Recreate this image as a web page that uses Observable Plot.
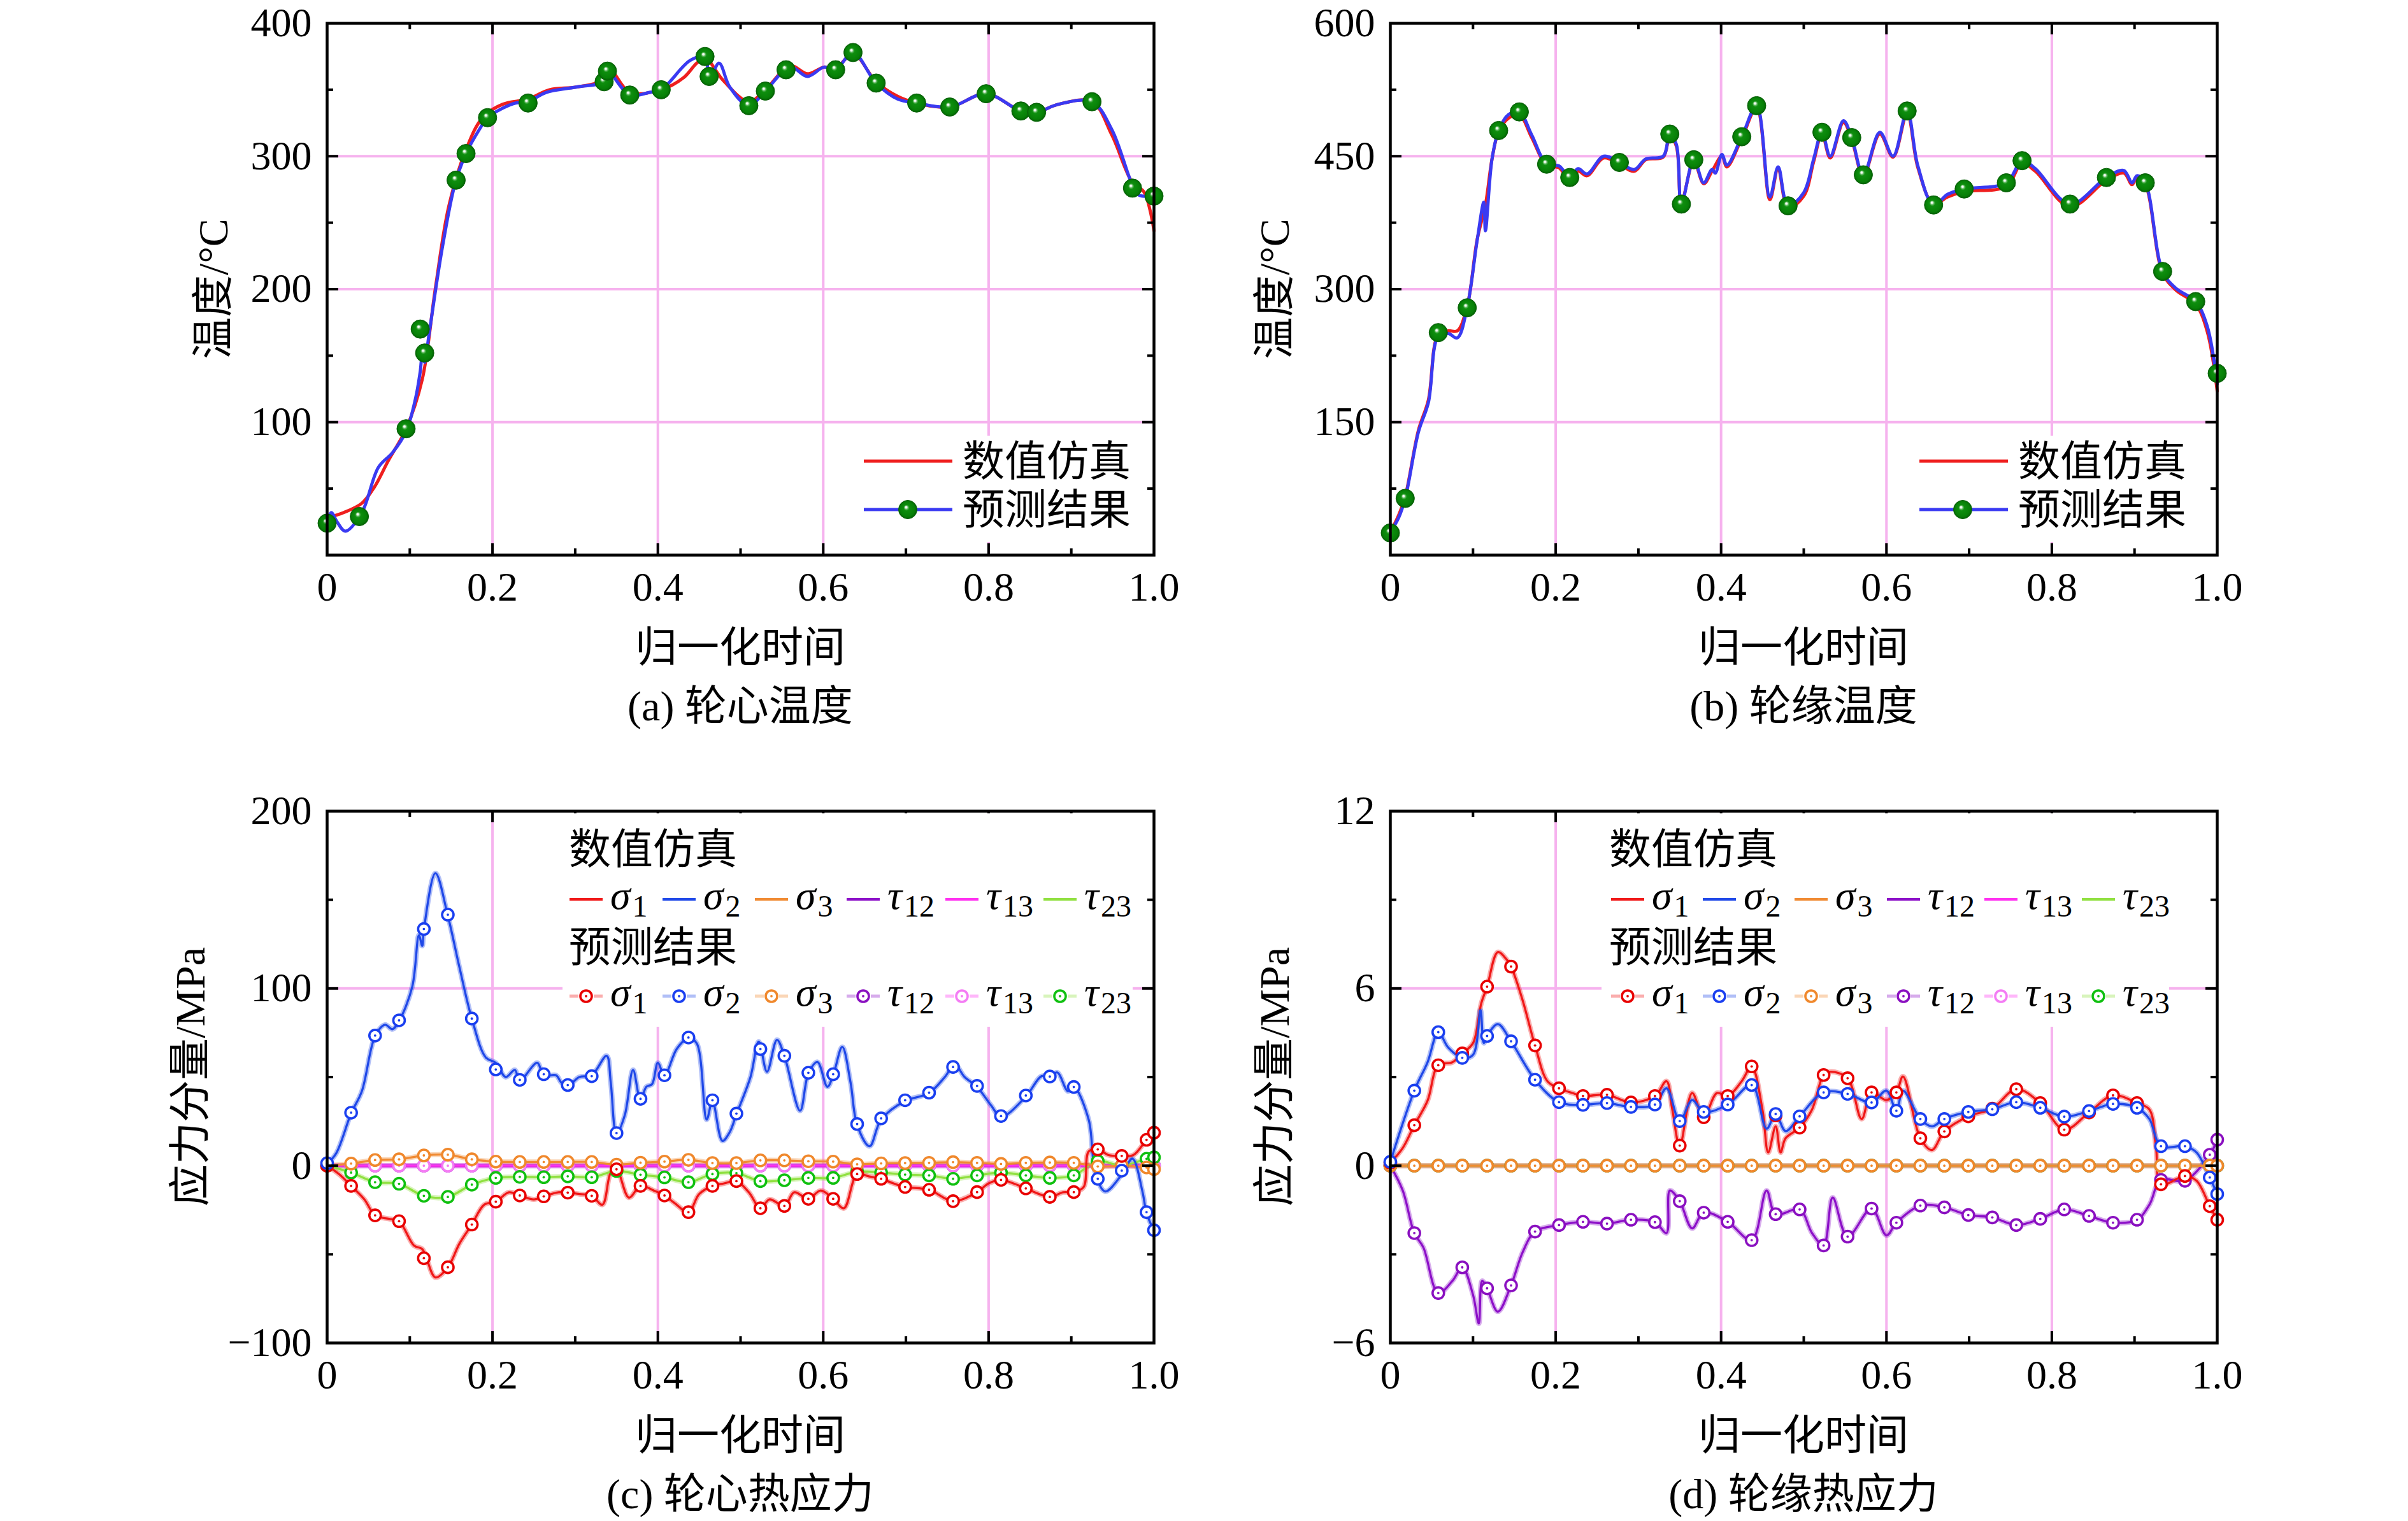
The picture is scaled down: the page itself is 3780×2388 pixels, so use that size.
<!DOCTYPE html>
<html><head><meta charset="utf-8">
<script src="https://cdn.jsdelivr.net/npm/d3@7"></script>
<script src="https://cdn.jsdelivr.net/npm/@observablehq/plot@0.6"></script>
<style>
html,body{margin:0;padding:0;background:#fff;}
#root{position:relative;width:3780px;height:2388px;overflow:hidden;background:#fff;}
</style></head>
<body><div id="root"></div>
<script>
// ---------------- DATA ----------------
const xTickVals = [0, 0.2, 0.4, 0.6, 0.8, 1.0];
const xMajor = [0.2, 0.4, 0.6, 0.8];
const xMinor = [0.1, 0.3, 0.5, 0.7, 0.9];

// (a) wheel-centre temperature
const aYTicks = [100, 200, 300, 400];
const aYMinor = [50, 150, 250, 350];
const aGridY = [100, 200, 300];
const aSimT = [0,0.02,0.042,0.057,0.074,0.0955,0.115,0.131,0.147,0.168,0.188,0.212,0.243,0.269,0.301,0.334,0.343,0.366,0.404,0.431,0.447,0.457,0.479,0.51,0.53,0.56,0.581,0.601,0.615,0.636,0.664,0.69,0.713,0.753,0.797,0.839,0.858,0.884,0.925,0.949,0.974,0.988,1.0];
const aSimV = [28,32,39,51,71,95,132,201,262,305,329,339,343,350,352,357,364,348,350,359,370,374,357,341,350,368,362,367,366,377,356,345,340,337,347,334,333,339,341,316,280,273,244];
const aPredT = [0,0.005,0.012,0.022,0.042,0.062,0.079,0.0955,0.107,0.1126,0.115,0.118,0.123,0.139,0.155,0.168,0.184,0.194,0.212,0.228,0.243,0.265,0.301,0.334,0.339,0.366,0.39,0.404,0.439,0.457,0.462,0.474,0.487,0.51,0.53,0.56,0.581,0.601,0.615,0.636,0.664,0.69,0.713,0.753,0.797,0.839,0.858,0.884,0.925,0.949,0.974,0.981,1.0];
const aPredV = [24,32,25,18,32,66,77,93,118,138,149,145,165,230,280,302,320,329,336,340,341,348,352,356,364,346,348,350,372,375,357,370,352,338,349,367,360,367,365,378,355,343,340,337,347,334,333,339,341,320,278,271,270];
const aMarkT = [0,0.039,0.0955,0.1126,0.118,0.156,0.168,0.194,0.243,0.335,0.339,0.366,0.404,0.457,0.462,0.51,0.53,0.555,0.615,0.636,0.664,0.713,0.753,0.797,0.839,0.858,0.925,0.974,1.0];
const aMarkV = [24,29,95,170,152,282,302,329,340,356,364,346,350,375,360,338,349,365,365,378,355,340,337,347,334,333,341,276,270];

// (b) wheel-rim temperature
const bYTicks = [150, 300, 450, 600];
const bYMinor = [75, 225, 375, 525];
const bGridY = [150, 300, 450];
const bSimT = [0,0.01,0.018,0.034,0.046,0.058,0.07,0.081,0.093,0.105,0.115,0.123,0.131,0.143,0.156,0.171,0.189,0.204,0.217,0.227,0.238,0.258,0.277,0.295,0.309,0.33,0.338,0.346,0.352,0.367,0.379,0.389,0.401,0.407,0.425,0.443,0.459,0.469,0.481,0.5,0.512,0.522,0.532,0.548,0.558,0.572,0.592,0.608,0.625,0.638,0.657,0.674,0.694,0.745,0.764,0.78,0.822,0.866,0.887,0.897,0.903,0.913,0.934,0.95,0.974,0.988,1.0];
const bSimV = [26,45,66,141,175,249,253,253,281,356,395,447,478,493,497,471,440,437,423,433,428,448,441,433,446,449,473,461,398,444,419,433,450,438,470,505,401,436,392,405,444,475,448,488,469,428,475,449,498,437,396,404,410,416,442,433,393,423,431,418,426,418,318,299,283,252,185];
const bPredT = [0,0.01,0.018,0.034,0.046,0.058,0.07,0.081,0.093,0.105,0.113,0.115,0.123,0.131,0.143,0.156,0.171,0.189,0.204,0.217,0.227,0.238,0.258,0.277,0.295,0.309,0.33,0.338,0.346,0.352,0.367,0.379,0.389,0.393,0.401,0.407,0.425,0.443,0.459,0.469,0.481,0.5,0.512,0.522,0.532,0.548,0.558,0.572,0.592,0.608,0.625,0.638,0.657,0.674,0.694,0.745,0.764,0.78,0.822,0.866,0.887,0.897,0.903,0.913,0.934,0.95,0.974,0.988,1.0];
const bPredV = [26,42,64,139,172,247,250,245,280,355,398,366,447,479,497,500,474,441,439,426,436,430,450,443,435,447,450,475,463,396,446,420,435,431,452,440,472,507,404,438,394,409,447,477,450,490,471,429,477,450,501,439,395,407,413,420,445,436,396,426,434,420,428,420,320,301,286,258,193];
const bMarkT = [0,0.018,0.058,0.093,0.131,0.156,0.189,0.217,0.277,0.338,0.352,0.367,0.425,0.443,0.481,0.522,0.558,0.572,0.625,0.657,0.694,0.745,0.764,0.822,0.866,0.913,0.934,0.974,1.0];
const bMarkV = [25,64,251,279,479,500,441,426,443,475,396,446,472,507,394,477,471,429,501,395,413,420,445,396,426,420,320,286,205];

// (c) wheel-centre thermal stress, (d) wheel-rim thermal stress: marker times
const markT = [0,0.029,0.058,0.087,0.117,0.146,0.175,0.204,0.233,0.262,0.291,0.32,0.35,0.379,0.408,0.437,0.466,0.495,0.524,0.553,0.582,0.612,0.641,0.67,0.699,0.728,0.757,0.786,0.815,0.845,0.874,0.903,0.932,0.961,0.991,1.0];

const cYTicks = [-100, 0, 100, 200];
const cYMinor = [-50, 50, 150];
const cGridY = [0, 100];
const cS1 = [0,-11.4,-28,-31.3,-52.2,-57.3,-33.2,-20.3,-16.8,-17.3,-15.2,-17,-2,-11.4,-16.8,-26.2,-11.4,-8.7,-24,-22.7,-18.7,-18.7,-4.7,-7.4,-12,-13.6,-20,-14.9,-8,-12.8,-17.6,-14.9,9.2,5.5,14.6,18.6];
const cS2 = [1.4,29.9,73.4,82,133.5,141.6,83,54.3,48.4,51.6,45.5,50.5,18.4,37.7,51,72.3,36.9,29.4,65.8,62,52.4,51.6,23.5,26.7,36.9,41.2,55.7,45,28,39.6,50.3,44.4,-7.4,-2.8,-26.2,-36.4];
const cS3 = [0,1.2,3.2,3.6,5.8,6.2,3.6,2.3,2.1,2.1,2.1,2.1,0.6,1.7,2.3,3.3,1.5,1.5,3,3,2.5,2.3,0.8,1.3,1.5,1.6,2,1.6,1,1.6,1.8,1.6,-0.4,0,-1,-2];
const cT12 = [0,0,0,0,0,0,0,0,0,0,0,0,0,0,0,0,0,0,0,0,0,0,0,0,0,0,0,0,0,0,0,0,0,0,0,0];
const cT13 = [0,0,0,0,0,0,0,0,0,0,0,0,0,0,0,0,0,0,0,0,0,0,0,0,0,0,0,0,0,0,0,0,0,0,0,0];
const cT23 = [0,-3.9,-9.3,-10.2,-17,-17.6,-10.7,-6.9,-6.3,-6.5,-6,-6.5,-3,-5.1,-6.6,-9.3,-4.7,-4.2,-8.7,-8.2,-6.9,-6.9,-3.4,-3.9,-5,-5.5,-7.4,-5.5,-3.9,-5.5,-6.9,-5.5,2.6,0,3.9,4.7];
const cS1dT = [0,0.015,0.029,0.045,0.058,0.075,0.087,0.105,0.115,0.12,0.131,0.146,0.16,0.175,0.19,0.204,0.22,0.233,0.25,0.262,0.28,0.291,0.305,0.32,0.333,0.343,0.35,0.365,0.379,0.395,0.408,0.42,0.437,0.45,0.466,0.48,0.495,0.51,0.524,0.535,0.553,0.565,0.582,0.597,0.612,0.625,0.641,0.655,0.67,0.685,0.699,0.728,0.757,0.786,0.8,0.815,0.83,0.845,0.874,0.89,0.903,0.915,0.921,0.932,0.945,0.961,0.975,0.991,1.0];
const cS1dV = [0,-5,-11.4,-19,-28,-30,-31.3,-45,-47,-52,-63,-57.3,-44,-33.2,-22,-20.3,-15,-16.8,-19,-17.3,-15,-15.2,-16,-17,-22,-4,-2,-18,-11.4,-14,-16.8,-21,-26.2,-16,-11.4,-10,-8.7,-15,-24,-19,-22.7,-15,-18.7,-14,-18.7,-24,-4.7,-6,-7.4,-10,-12,-13.6,-20,-14.9,-10,-8,-10,-12.8,-17.6,-15,-14.9,-12,8,9.2,6,5.5,6,14.6,18.6];
const cS2dT = [0,0.011,0.029,0.042,0.058,0.07,0.079,0.087,0.103,0.111,0.115,0.117,0.131,0.146,0.16,0.175,0.192,0.204,0.216,0.227,0.233,0.254,0.262,0.277,0.283,0.291,0.305,0.32,0.338,0.343,0.35,0.36,0.37,0.379,0.386,0.393,0.4,0.408,0.423,0.437,0.447,0.459,0.466,0.478,0.487,0.495,0.512,0.522,0.532,0.544,0.553,0.572,0.582,0.593,0.605,0.612,0.623,0.633,0.641,0.656,0.67,0.699,0.728,0.747,0.759,0.771,0.786,0.803,0.815,0.845,0.864,0.874,0.883,0.896,0.903,0.921,0.929,0.941,0.961,0.974,0.986,0.991,1.0];
const cS2dV = [1,7,29.5,42,73,79.5,77,81.6,101,130,124,133,165,141,112,83,61,58,50,54,48,58,51,51,47,45,50,51,62,47,18,28.5,54,37,44.5,46,58,51,66,72,69,26,36.5,14,19,29,50,70,53,71,62,31,52,58.5,44.5,51,67,47,23,11,26,36.5,41,50,57,50,44.5,34,27.6,39,50.5,50,52.6,42,44.5,26,-4,-14.5,-5,4,-14.5,-26.6,-36.8];

const dYTicks = [-6, 0, 6, 12];
const dYMinor = [-3, 3, 9];
const dGridY = [0, 6];
const dS1 = [0.1,1.37,3.4,3.8,6.06,6.74,4.07,2.62,2.36,2.4,2.14,2.36,0.68,1.64,2.36,3.36,1.7,1.29,3.07,2.96,2.48,2.48,0.93,1.16,1.67,1.93,2.59,2.12,1.22,1.8,2.38,2.12,-0.63,-0.35,-1.37,-1.83];
const dS2 = [0.13,2.54,4.52,3.65,4.39,4.21,2.91,2.15,2.06,2.12,1.99,2.07,1.51,1.82,2.07,2.73,1.75,1.67,2.48,2.43,2.14,1.86,1.58,1.58,1.82,1.91,2.15,1.96,1.66,1.85,2.09,1.96,0.66,0.66,-0.4,-0.96];
const dS3 = [0,0,0,0,0,0,0,0,0,0,0,0,0,0,0,0,0,0,0,0,0,0,0,0,0,0,0,0,0,0,0,0,0,0,0,0];
const dT12 = [0,-2.28,-4.31,-3.44,-4.15,-4.05,-2.23,-2.01,-1.9,-1.96,-1.83,-1.91,-1.2,-1.59,-1.9,-2.52,-1.64,-1.48,-2.7,-2.4,-1.45,-1.93,-1.35,-1.41,-1.67,-1.75,-2.01,-1.8,-1.48,-1.7,-1.93,-1.83,-0.48,-0.51,0.37,0.88];
const dT13 = [0,0,0,0,0,0,0,0,0,0,0,0,0,0,0,0,0,0,0,0,0,0,0,0,0,0,0,0,0,0,0,0,0,0,0,0];
const dT23 = [0,0,0,0,0,0,0,0,0,0,0,0,0,0,0,0,0,0,0,0,0,0,0,0,0,0,0,0,0,0,0,0,0,0,0,0];
const dS1dT = [0,0.015,0.029,0.045,0.058,0.075,0.087,0.1,0.11,0.117,0.13,0.14,0.146,0.16,0.175,0.19,0.204,0.22,0.233,0.262,0.291,0.32,0.334,0.341,0.35,0.365,0.379,0.395,0.408,0.425,0.437,0.45,0.457,0.466,0.472,0.478,0.495,0.51,0.524,0.532,0.553,0.57,0.582,0.6,0.612,0.62,0.641,0.655,0.67,0.699,0.728,0.757,0.786,0.815,0.845,0.874,0.903,0.918,0.926,0.932,0.961,0.975,0.991,1.0];
const dS1dV = [0.1,0.6,1.37,2.2,3.4,3.5,3.8,4.15,5.5,6.06,7.23,7.0,6.74,5.6,4.07,2.86,2.62,2.46,2.36,2.4,2.14,2.36,2.86,1.9,0.68,2.46,1.64,2.46,2.36,2.86,3.36,1.9,0.45,1.33,0.45,0.93,1.29,1.9,3.07,3.18,2.96,1.58,2.48,2.22,2.48,3.02,0.93,0.53,1.16,1.67,1.93,2.59,2.12,1.22,1.8,2.38,2.12,1.9,0.61,-0.63,-0.35,-0.51,-1.37,-1.83];
const dS2dT = [0,0.029,0.045,0.058,0.07,0.087,0.1,0.109,0.113,0.117,0.13,0.146,0.175,0.204,0.233,0.262,0.291,0.32,0.334,0.35,0.365,0.379,0.408,0.437,0.455,0.466,0.478,0.495,0.524,0.553,0.582,0.6,0.612,0.62,0.641,0.655,0.67,0.699,0.728,0.757,0.786,0.815,0.845,0.874,0.903,0.918,0.932,0.961,0.975,0.991,1.0];
const dS2dV = [0.13,2.54,3.5,4.52,4.0,3.65,3.75,5.27,4.15,4.39,4.79,4.21,2.91,2.15,2.06,2.12,1.99,2.07,2.62,1.51,2.22,1.82,2.07,2.73,1.25,1.75,1.17,1.67,2.48,2.43,2.14,2.54,1.86,2.54,1.58,1.33,1.58,1.82,1.91,2.15,1.96,1.66,1.85,2.09,1.96,1.58,0.66,0.66,0.45,-0.4,-0.96];
const dT12dT = [0,0.015,0.029,0.04,0.058,0.075,0.087,0.1,0.107,0.111,0.117,0.13,0.146,0.16,0.175,0.204,0.233,0.262,0.291,0.32,0.334,0.338,0.35,0.365,0.379,0.408,0.437,0.455,0.466,0.495,0.51,0.524,0.535,0.553,0.582,0.6,0.612,0.641,0.67,0.699,0.728,0.757,0.786,0.815,0.845,0.874,0.903,0.918,0.932,0.961,0.991,1.0];
const dT12dV = [0,-0.84,-2.28,-2.77,-4.31,-3.9,-3.44,-4.37,-5.34,-3.9,-4.15,-4.94,-4.05,-2.93,-2.23,-2.01,-1.9,-1.96,-1.83,-1.91,-2.28,-0.84,-1.2,-2.12,-1.59,-1.9,-2.52,-0.84,-1.64,-1.48,-2.28,-2.7,-1.08,-2.4,-1.45,-2.36,-1.93,-1.35,-1.41,-1.67,-1.75,-2.01,-1.8,-1.48,-1.7,-1.93,-1.83,-1.32,-0.48,-0.51,0.37,0.88];

// text
const xTitle = "归一化时间";
const tempTitle = "温度/°C";
const stressTitle = "应力分量/MPa";
const captions = ["(a) 轮心温度", "(b) 轮缘温度", "(c) 轮心热应力", "(d) 轮缘热应力"];
const legSim = "数值仿真", legPred = "预测结果";
const compSym = ["σ","σ","σ","τ","τ","τ"];
const compSub = ["1","2","3","12","13","23"];

// ---------------- STYLE / LAYOUT ----------------
const W = 1298, H = 835, ML = 300, MR = 70, MT = 50, MB = 110;
const FONT = '"Liberation Serif","Noto Sans CJK SC",serif';
const GRID = "#f6b2ee";
const RED = "#ef1f1f", BLUE = "#3a3af2";
const simCol = ["#f01818", "#1f48e8", "#f08a32", "#8c10c8", "#ff30f0", "#90e040"];
const mkCol  = ["#e80000", "#1a3ff0", "#f0882c", "#8a10c0", "#f47cf4", "#10c010"];
const root = document.getElementById("root");

const rows = (ts, vs) => ts.map((t, i) => ({t, v: vs[i]}));
const fmtX = d => d === 0 ? "0" : d.toFixed(1);
const fmtY = d => d < 0 ? "\u2212" + Math.abs(d) : String(d);

function frameTicks(yMaj, yMin) {
  const o = [];
  const st = {stroke: "#000", strokeWidth: 4};
  for (const [vals, len] of [[xMajor, 18], [xMinor, 10]]) {
    o.push(Plot.tickX(vals, {x: d => d, insetTop: H - len, ...st}));
    o.push(Plot.tickX(vals, {x: d => d, insetBottom: H - len, ...st}));
  }
  for (const [vals, len] of [[yMaj, 18], [yMin, 10]]) {
    o.push(Plot.tickY(vals, {y: d => d, insetRight: W - len, ...st}));
    o.push(Plot.tickY(vals, {y: d => d, insetLeft: W - len, ...st}));
  }
  return o;
}

function makePanel(L, T, yDomain, yTicks, yMinor, gridY, dataMarks) {
  const svg = Plot.plot({
    width: W + ML + MR, height: H + MT + MB,
    marginLeft: ML, marginRight: MR, marginTop: MT, marginBottom: MB,
    style: {fontFamily: FONT, fontSize: "64px", background: "transparent", overflow: "visible", maxWidth: "none"},
    x: {domain: [0, 1]},
    y: {domain: yDomain},
    marks: [
      Plot.ruleX(xMajor, {stroke: GRID, strokeWidth: 4}),
      Plot.ruleY(gridY, {stroke: GRID, strokeWidth: 4}),
      ...dataMarks,
      ...frameTicks(yTicks.filter(d => d !== yDomain[0] && d !== yDomain[1]), yMinor),
      Plot.frame({stroke: "#000", strokeWidth: 4.5}),
      Plot.axisX(xTickVals, {tickSize: 0, tickPadding: 26, tickFormat: fmtX, fontSize: 64, label: null}),
      Plot.axisY(yTicks, {tickSize: 0, tickPadding: 24, tickFormat: fmtY, fontSize: 64, label: null})
    ]
  });
  svg.style.position = "absolute";
  svg.style.left = (L - ML) + "px";
  svg.style.top = (T - MT) + "px";
  root.appendChild(svg);
}

function tempMarks(simT, simV, predT, predV, markT_, markV) {
  return [
    Plot.line(rows(simT, simV), {x: "t", y: "v", stroke: RED, strokeWidth: 5, curve: "catmull-rom"}),
    Plot.line(rows(predT, predV), {x: "t", y: "v", stroke: BLUE, strokeWidth: 5, curve: "catmull-rom"}),
    Plot.dot(rows(markT_, markV), {x: "t", y: "v", r: 14.5, fill: "url(#ballGrad)", stroke: "#0a650a", strokeWidth: 1})
  ];
}

function stressMarks(series, dense) {
  const order = [3, 4, 5, 2, 0, 1];
  const m = [];
  for (const k of order) {
    const data = dense[k] ? rows(dense[k][0], dense[k][1]) : rows(markT, series[k]);
    m.push(Plot.line(data, {x: "t", y: "v", stroke: simCol[k], strokeOpacity: 0.35, strokeWidth: 8, curve: "catmull-rom"}));
  }
  for (const k of order) {
    const data = dense[k] ? rows(dense[k][0], dense[k][1]) : rows(markT, series[k]);
    m.push(Plot.line(data, {x: "t", y: "v", stroke: simCol[k], strokeWidth: 3.3, curve: "catmull-rom"}));
  }
  for (const k of order) {
    const data = rows(markT, series[k]);
    m.push(Plot.dot(data, {x: "t", y: "v", r: 9, stroke: mkCol[k], strokeWidth: 3.6, fill: "white"}));
    m.push(Plot.dot(data, {x: "t", y: "v", r: 1.9, fill: mkCol[k]}));
  }
  return m;
}

const P = {a: [513, 36], b: [2182, 36], c: [513, 1273], d: [2182, 1273]};

makePanel(P.a[0], P.a[1], [0, 400], aYTicks, aYMinor, aGridY, tempMarks(aSimT, aSimV, aPredT, aPredV, aMarkT, aMarkV));
makePanel(P.b[0], P.b[1], [0, 600], bYTicks, bYMinor, bGridY, tempMarks(bSimT, bSimV, bPredT, bPredV, bMarkT, bMarkV));
makePanel(P.c[0], P.c[1], [-100, 200], cYTicks, cYMinor, cGridY,
  stressMarks([cS1, cS2, cS3, cT12, cT13, cT23], {0: [cS1dT, cS1dV], 1: [cS2dT, cS2dV]}));
makePanel(P.d[0], P.d[1], [-6, 12], dYTicks, dYMinor, dGridY,
  stressMarks([dS1, dS2, dS3, dT12, dT13, dT23], {0: [dS1dT, dS1dV], 1: [dS2dT, dS2dV], 3: [dT12dT, dT12dV]}));

// ---------------- OVERLAY: titles, captions, legends ----------------
const ov = d3.select(root).append("svg")
  .attr("width", 3780).attr("height", 2388)
  .style("position", "absolute").style("left", "0px").style("top", "0px")
  .style("font-family", FONT);
const defs = ov.append("defs");
const g = defs.append("radialGradient").attr("id", "ballGrad")
  .attr("cx", "0.5").attr("cy", "0.5").attr("r", "0.5").attr("fx", "0.4").attr("fy", "0.36");
[[0, "#ffffff"], [0.1, "#e6f4e6"], [0.2, "#5db65d"], [0.32, "#0e8e0e"], [0.8, "#078007"], [1, "#055f05"]]
  .forEach(([o, c]) => g.append("stop").attr("offset", o).attr("stop-color", c));

function text(x, y, s, size, opts = {}) {
  const t = ov.append("text").attr("x", x).attr("y", y).attr("font-size", size)
    .attr("text-anchor", opts.anchor || "middle").attr("dominant-baseline", opts.baseline || "central")
    .attr("fill", "#000").text(s);
  if (opts.rotate) t.attr("transform", `rotate(-90 ${x} ${y})`);
  return t;
}

// axis titles & captions
for (const [k, idx] of [["a", 0], ["b", 1], ["c", 2], ["d", 3]]) {
  const [L, T] = P[k];
  text(L + W / 2, T + H + 145, xTitle, 66);
  text(L + W / 2, T + H + 237, captions[idx], 66);
}
text(334, P.a[1] + H / 2, tempTitle, 66, {rotate: true});
text(2000, P.b[1] + H / 2, tempTitle, 66, {rotate: true});
text(298, P.c[1] + H / 2, stressTitle, 66, {rotate: true});
text(2000, P.d[1] + H / 2, stressTitle, 66, {rotate: true});

// temperature legends
function tempLegend(box, lx1, lx2, bx, tx, y1, y2) {
  ov.append("rect").attr("x", box[0]).attr("y", box[1]).attr("width", box[2] - box[0]).attr("height", box[3] - box[1]).attr("fill", "#fff");
  ov.append("line").attr("x1", lx1).attr("x2", lx2).attr("y1", y1).attr("y2", y1).attr("stroke", RED).attr("stroke-width", 5);
  ov.append("line").attr("x1", lx1).attr("x2", lx2).attr("y1", y2).attr("y2", y2).attr("stroke", BLUE).attr("stroke-width", 5);
  ov.append("circle").attr("cx", bx).attr("cy", y2).attr("r", 14.5).attr("fill", "url(#ballGrad)").attr("stroke", "#0a650a").attr("stroke-width", 1);
  text(tx, y1, legSim, 66, {anchor: "start"});
  text(tx, y2, legPred, 66, {anchor: "start"});
}
tempLegend([1343, 684, 1795, 851], 1356, 1495, 1425, 1511, 724, 800);
tempLegend([3000, 684, 3468, 851], 3013, 3152, 3081, 3168, 724, 800);

// stress legends
function compLabel(x, y, k) {
  const t = ov.append("text").attr("x", x).attr("y", y + 15).attr("text-anchor", "start");
  t.append("tspan").attr("font-size", 64).attr("font-style", "italic").text(compSym[k]);
  t.append("tspan").attr("font-size", 48).attr("dx", 3).attr("dy", 12).text(compSub[k]);
}
function stressLegend(box, tx, ex) {
  ov.append("rect").attr("x", box[0]).attr("y", box[1]).attr("width", box[2] - box[0]).attr("height", box[3] - box[1]).attr("fill", "#fff");
  const yT1 = 1333, yR1 = 1412, yT2 = 1487, yR2 = 1564;
  text(tx, yT1, legSim, 66, {anchor: "start"});
  text(tx, yT2, legPred, 66, {anchor: "start"});
  ex.forEach((x, k) => {
    ov.append("line").attr("x1", x).attr("x2", x + 52).attr("y1", yR1).attr("y2", yR1).attr("stroke", simCol[k]).attr("stroke-width", 4);
    compLabel(x + 64, yR1, k);
    for (const [a, b] of [[x, x + 14], [x + 38, x + 52]]) {
      ov.append("line").attr("x1", a).attr("x2", b).attr("y1", yR2).attr("y2", yR2)
        .attr("stroke", simCol[k]).attr("stroke-opacity", 0.35).attr("stroke-width", 5);
    }
    ov.append("circle").attr("cx", x + 26).attr("cy", yR2).attr("r", 9).attr("fill", "#fff").attr("stroke", mkCol[k]).attr("stroke-width", 3.6);
    ov.append("circle").attr("cx", x + 26).attr("cy", yR2).attr("r", 1.9).attr("fill", mkCol[k]);
    compLabel(x + 64, yR2, k);
  });
}
stressLegend([883, 1277, 1778, 1612], 893, [894, 1040, 1185, 1329, 1484, 1638]);
stressLegend([2514, 1277, 3405, 1612], 2526, [2529, 2673, 2817, 2962, 3115, 3268]);
</script>
</body></html>
